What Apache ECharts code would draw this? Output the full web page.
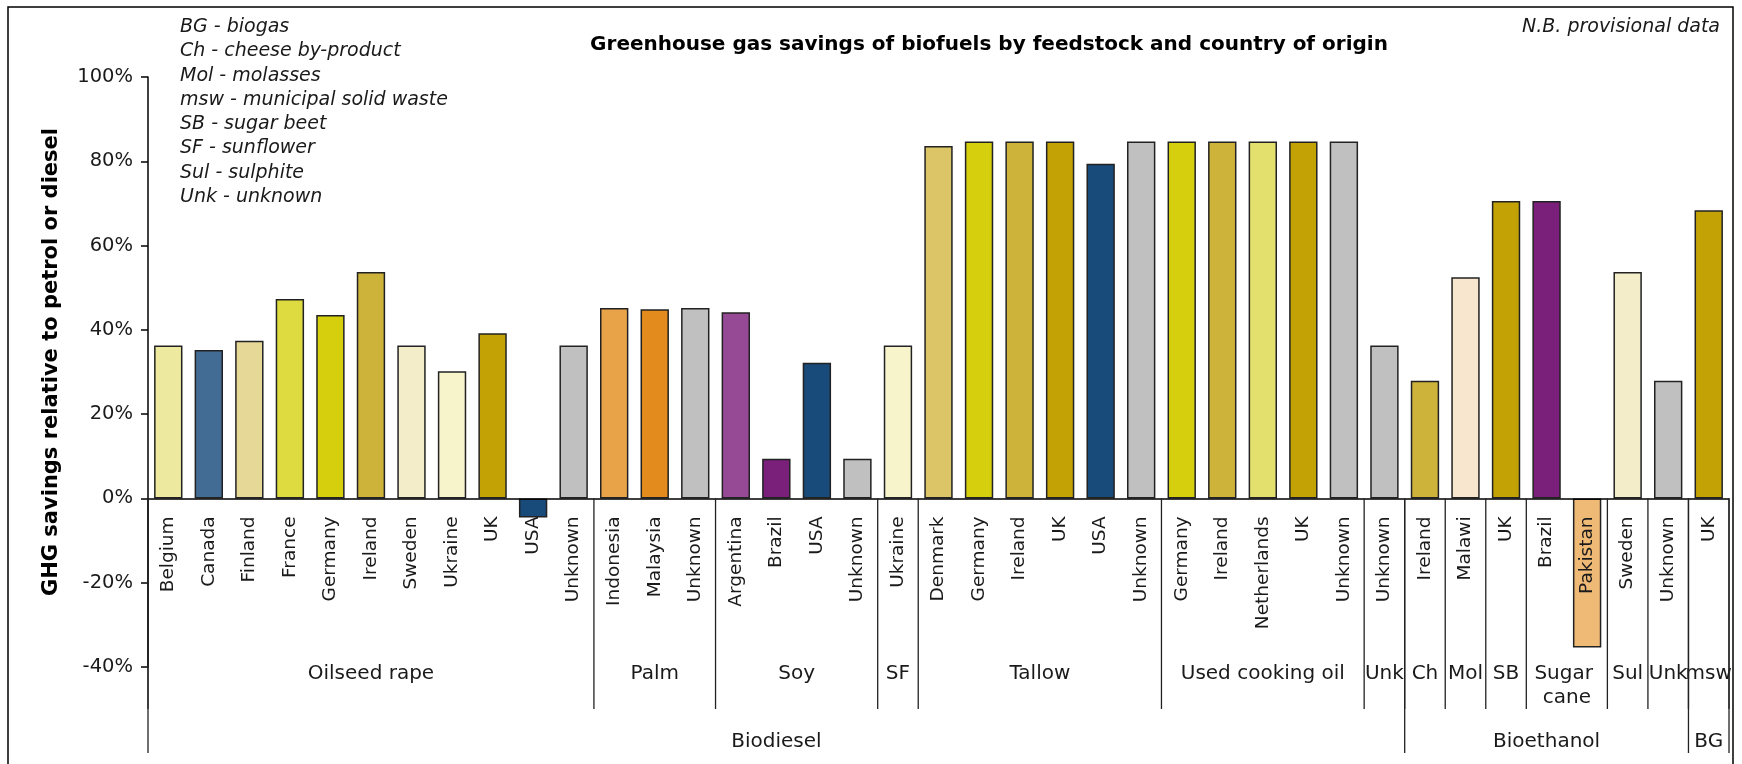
<!DOCTYPE html>
<html>
<head>
<meta charset="utf-8">
<script src="https://cdn.jsdelivr.net/npm/echarts@6/dist/echarts.min.js"></script>
<style>
html,body{margin:0;padding:0;background:#fff;}
#main{width:1742px;height:764px;}
</style>
</head>
<body>
<div id="main"></div>
<script>
// ---- data ----
const categories = [
  'Belgium','Canada','Finland','France','Germany','Ireland','Sweden','Ukraine','UK','USA','Unknown',
  'Indonesia','Malaysia','Unknown',
  'Argentina','Brazil','USA','Unknown',
  'Ukraine',
  'Denmark','Germany','Ireland','UK','USA','Unknown',
  'Germany','Ireland','Netherlands','UK','Unknown',
  'Unknown',
  'Ireland',
  'Malawi',
  'UK',
  'Brazil','Pakistan',
  'Sweden',
  'Unknown',
  'UK'
];
const savings = [
  36.3, 35.2, 37.4, 47.3, 43.5, 53.7, 36.3, 30.2, 39.2, -4.5, 36.3,
  45.2, 44.9, 45.2,
  44.2, 9.4, 32.2, 9.4,
  36.3,
  83.6, 84.7, 84.7, 84.7, 79.4, 84.7,
  84.7, 84.7, 84.7, 84.7, 84.7,
  36.3,
  27.9,
  52.5,
  70.6,
  70.6, -35.4,
  53.7,
  27.9,
  68.4
];
const barColors = [
  '#EDEA9F','#426C94','#E6D998','#DEDB40','#D5CF0D','#CEB33A','#F4EDC9','#F7F4CC','#C2A204','#184A7A','#C0C0C0',
  '#E8A349','#E38B1C','#C0C0C0',
  '#964A96','#7A1F7A','#184A7A','#C0C0C0',
  '#F7F4CC',
  '#DBC567','#D5CF0D','#CEB33A','#C2A204','#184A7A','#C0C0C0',
  '#D5CF0D','#CEB33A','#E3E06E','#C2A204','#C0C0C0',
  '#C0C0C0',
  '#CEB33A',
  '#F9E6CE',
  '#C2A204',
  '#7A1F7A','#EFBA76',
  '#F4EDC9',
  '#C0C0C0',
  '#C2A204'
];
const feedstockNames = ['Oilseed rape','Palm','Soy','SF','Tallow','Used cooking oil','Unk','Ch','Mol','SB','Sugar cane','Sul','Unk','msw'];
const feedstockSizes = [11,3,4,1,6,5,1,1,1,1,2,1,1,1];
const fuelNames = ['Biodiesel','Bioethanol','BG'];
const fuelSizes = [31,7,1];
const yMin = -40, yMax = 100, yStep = 20;
const titleText = 'Greenhouse gas savings of biofuels by feedstock and country of origin';
const yTitle = 'GHG savings relative to petrol or diesel';
const noteLines = [
  'BG - biogas',
  'Ch - cheese by-product',
  'Mol - molasses',
  'msw - municipal solid waste',
  'SB - sugar beet',
  'SF - sunflower',
  'Sul - sulphite',
  'Unk - unknown'
];
const provisionalNote = 'N.B. provisional data';

// ---- chart ----
const FONT = 'DejaVu Sans';
const TXT = '#1a1a1a';
const chart = echarts.init(document.getElementById('main'), null, {renderer: 'canvas'});
chart.setOption({
  animation: false,
  backgroundColor: '#fff',
  grid: {left: 148, right: 13, top: 77, height: 590, containLabel: false},
  xAxis: {
    type: 'category',
    data: categories,
    z: 10,
    axisLine: {onZero: true, lineStyle: {color: '#000', width: 1.5}},
    axisTick: {show: false},
    axisLabel: {show: false}
  },
  yAxis: {
    type: 'value',
    min: yMin, max: yMax, interval: yStep,
    axisLine: {show: true, onZero: false, lineStyle: {color: '#000', width: 1.5}},
    axisTick: {show: true, length: 7, lineStyle: {color: '#000', width: 1.5}},
    splitLine: {show: false},
    axisLabel: {formatter: '{value}%', fontSize: 19.5, fontFamily: FONT, color: TXT, margin: 15}
  },
  series: [{
    type: 'bar',
    barCategoryGap: '30%',
    data: savings.map((v, i) => ({value: v, itemStyle: {color: barColors[i]}})),
    itemStyle: {borderColor: '#222', borderWidth: 1.5}
  }]
});

// ---- multi-level category labels, derived from the axis scale ----
const xOf = i => chart.convertToPixel({xAxisIndex: 0}, i);
const bw = xOf(1) - xOf(0);
const edge = i => xOf(0) + (i - 0.5) * bw;
const yZero = chart.convertToPixel({yAxisIndex: 0}, 0);
const CAT_TOP = yZero + 18, L2_BOTTOM = 709, L3_BOTTOM = 753, L2_TEXT = 662, L3_TEXT = 742;

const graphics = [];
categories.forEach((name, i) => {
  graphics.push({type: 'text', z: 20, x: xOf(i), y: CAT_TOP, rotation: Math.PI / 2,
    style: {text: name, fill: TXT, font: '18.5px "' + FONT + '"', align: 'right', verticalAlign: 'middle'}});
});
function vline(x, y2) {
  graphics.push({type: 'line', z: 20, shape: {x1: x, y1: yZero, x2: x, y2: y2},
    style: {stroke: '#222', lineWidth: 1.3}});
}
let idx = 0;
feedstockNames.forEach((name, g) => {
  const a = edge(idx), b = edge(idx + feedstockSizes[g]);
  vline(a, L2_BOTTOM);
  graphics.push({type: 'text', z: 20, x: (a + b) / 2, y: L2_TEXT,
    style: {text: name, fill: TXT, font: '20px "' + FONT + '"', align: 'center', verticalAlign: 'top',
      width: Math.max(b - a, 60), overflow: 'break', lineHeight: 24}});
  idx += feedstockSizes[g];
});
vline(edge(idx), L2_BOTTOM);
idx = 0;
fuelNames.forEach((name, g) => {
  const a = edge(idx), b = edge(idx + fuelSizes[g]);
  vline(a, L3_BOTTOM);
  graphics.push({type: 'text', z: 20, x: (a + b) / 2, y: L3_TEXT,
    style: {text: name, fill: TXT, font: '20px "' + FONT + '"', align: 'center', verticalAlign: 'middle'}});
  idx += fuelSizes[g];
});
vline(edge(idx), L3_BOTTOM);

// titles and notes
graphics.push({type: 'text', z: 20, x: 989, y: 45,
  style: {text: titleText, fill: '#000', font: 'bold 20px "' + FONT + '"', align: 'center', verticalAlign: 'middle'}});
graphics.push({type: 'text', z: 20, x: 52, y: 362, rotation: Math.PI / 2,
  style: {text: yTitle, fill: '#000', font: 'bold 21px "' + FONT + '"', align: 'center', verticalAlign: 'middle'}});
noteLines.forEach((t, i) => {
  graphics.push({type: 'text', z: 20, x: 180, y: 27 + i * 24.3,
    style: {text: t, fill: TXT, font: 'italic 19px "' + FONT + '"', align: 'left', verticalAlign: 'middle'}});
});
graphics.push({type: 'text', z: 20, x: 1720, y: 27,
  style: {text: provisionalNote, fill: TXT, font: 'italic 19px "' + FONT + '"', align: 'right', verticalAlign: 'middle'}});
// outer frame
graphics.push({type: 'rect', z: 20, shape: {x: 8, y: 7, width: 1725, height: 800},
  style: {fill: 'none', stroke: '#000', lineWidth: 1.5}});

chart.setOption({graphic: graphics});
</script>
</body>
</html>
